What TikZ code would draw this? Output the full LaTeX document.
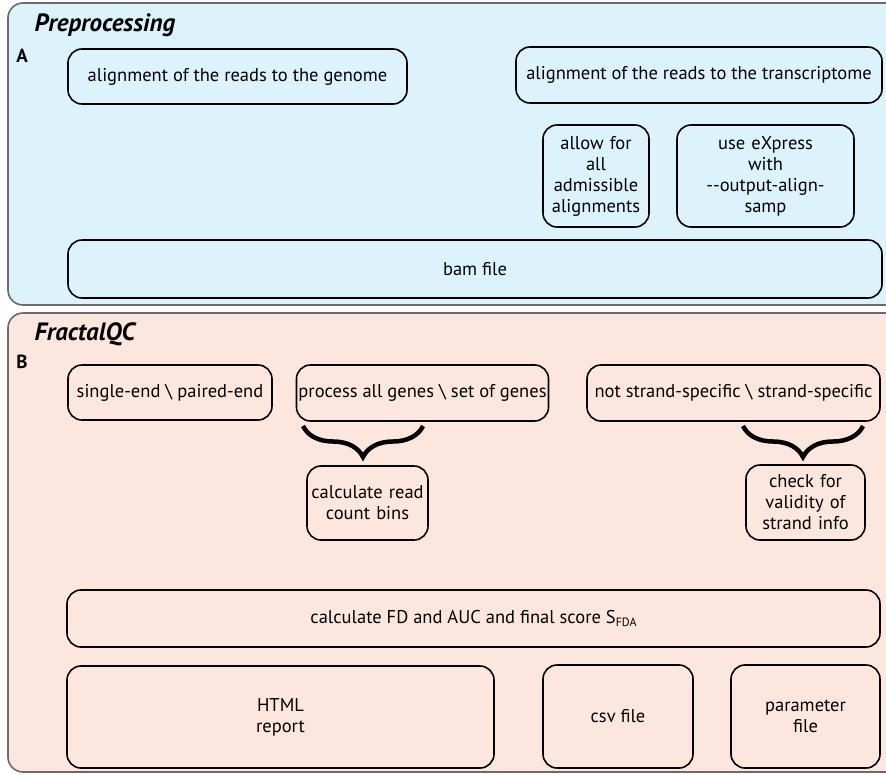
\documentclass[tikz,border=0pt]{standalone}
\usepackage{fontspec}
\setmainfont{PT Sans}
\usetikzlibrary{decorations.pathreplacing}
\definecolor{pAfill}{HTML}{DDF3FB}
\definecolor{pBfill}{HTML}{FDE6DD}
\definecolor{pborder}{HTML}{6A6A6A}
\tikzset{
  panelbox/.style={draw=pborder, line width=1.6pt, rounded corners=15pt},
  stagebox/.style={draw=black, line width=1.6pt, rounded corners=14pt, align=center,
    inner sep=2pt, font=\fontsize{18.5}{21}\selectfont},
  paneltitle/.style={font=\fontsize{25}{28}\selectfont\bfseries\itshape, anchor=west},
  panelletter/.style={font=\fontsize{19}{21}\selectfont\bfseries},
  bigbrace/.style={decorate, decoration={brace, mirror, amplitude=31pt}, line width=4.5pt}
}
\begin{document}
\begin{tikzpicture}[x=1pt, y=-1pt]
\useasboundingbox (0,0) rectangle (886,774);
\clip (0,0) rectangle (886,774);
% panels
\path[panelbox, fill=pAfill] (8,3) rectangle (920,305);
\path[panelbox, fill=pBfill] (8,313) rectangle (920,772);
\node[paneltitle] (tA) at (31,25) {Preprocessing};
\node[panelletter] (lA) at (22,56) {A};
\node[paneltitle] (tB) at (31,334) {FractalQC};
\node[panelletter] (lB) at (22,362) {B};
% panel A boxes
\node[stagebox, minimum width=339pt, minimum height=55pt] (a1) at (237.5,76.5) {alignment of the reads to the genome};
\node[stagebox, minimum width=366pt, minimum height=56pt] (a2) at (699,75) {alignment of the reads to the transcriptome};
\node[stagebox, minimum width=106pt, minimum height=102pt, text width=100pt] (a3) at (596,176) {allow for\\all\\admissible\\alignments};
\node[stagebox, minimum width=177pt, minimum height=102pt, text width=170pt] (a4) at (765.5,176) {use eXpress\\with\\-{}-output-align-\\samp};
\node[stagebox, minimum width=814pt, minimum height=58pt] (a5) at (475,269) {bam file};
% panel B boxes
\node[stagebox, minimum width=204pt, minimum height=55pt] (b1) at (170,392.5) {single-end \textbackslash\ paired-end};
\node[stagebox, minimum width=251pt, minimum height=56pt] (b2) at (422.5,393) {process all genes \textbackslash\ set of genes};
\node[stagebox, minimum width=293pt, minimum height=56pt] (b3) at (733.5,393) {not strand-specific \textbackslash\ strand-specific};
\node[stagebox, minimum width=121pt, minimum height=74pt, text width=115pt] (b4) at (367.5,503) {calculate read\\count bins};
\node[stagebox, minimum width=119pt, minimum height=75pt, text width=113pt] (b5) at (805.5,502.5) {check for\\validity of\\strand info};
\node[stagebox, minimum width=813pt, minimum height=57pt] (b6) at (473.5,618.5) {calculate FD and AUC and final score S\raisebox{-0.35ex}{\fontsize{12}{13}\selectfont FDA}};
\node[stagebox, minimum width=427pt, minimum height=102pt, text width=420pt] (b7) at (280.5,717) {HTML\\report};
\node[stagebox, minimum width=150pt, minimum height=103pt] (b8) at (618,716.5) {csv file};
\node[stagebox, minimum width=149pt, minimum height=103pt, text width=143pt] (b9) at (805.5,716.5) {parameter\\file};
% braces (b2 -> b4, b3 -> b5)
\coordinate (br1s) at (303,426);
\coordinate (br1e) at (423,426);
\coordinate (br2s) at (743,426);
\coordinate (br2e) at (863,426);
\draw[bigbrace] (br1s) -- (br1e);
\draw[bigbrace] (br2s) -- (br2e);
\end{tikzpicture}
\end{document}
